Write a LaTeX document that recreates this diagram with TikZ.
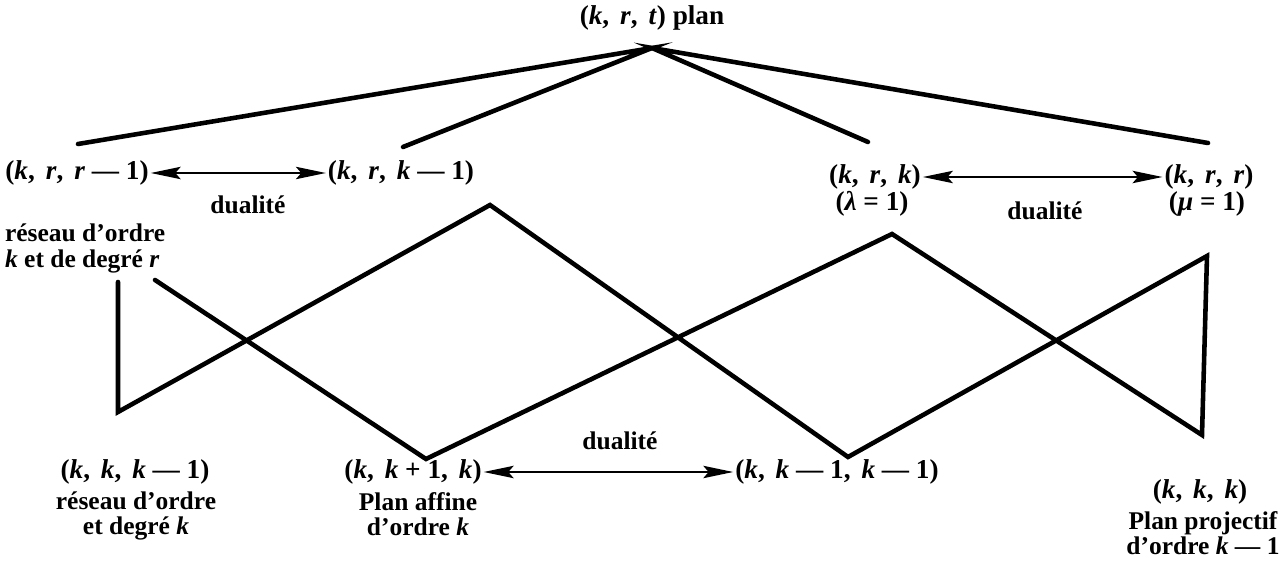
\documentclass[tikz,border=0pt]{standalone}
\usepackage{fontspec}
\setmainfont{Liberation Serif}
\usetikzlibrary{arrows.meta}
\newcommand{\vi}[1]{\textit{#1}}
\newcommand{\cs}{,\hspace{0.4em}}
\begin{document}
\begin{tikzpicture}[x=0.02cm,y=-0.02cm,
  lbl/.style={inner sep=1pt,font=\fontsize{15.5}{15.5}\selectfont\bfseries},
  wrd/.style={inner sep=1pt,font=\fontsize{14.5}{14.5}\selectfont\bfseries},
  edge/.style={line width=2.6pt,line cap=round,line join=miter},
  dualarrow/.style={line width=1.3pt,{Stealth[length=17pt,width=7pt,inset=3pt]}-{Stealth[length=17pt,width=7pt,inset=3pt]}}]
\useasboundingbox (0,0) rectangle (1282,564);
% top
\node[lbl] (top) at (652,18) {(\vi{k}\cs\vi{r}\cs\vi{t}) plan};
\coordinate (apex) at (652,48);
% upper row
\node[lbl] (krr1) at (77,173) {(\vi{k}\cs\vi{r}\cs\vi{r} — 1)};
\node[lbl] (krk1) at (401,173) {(\vi{k}\cs\vi{r}\cs\vi{k} — 1)};
\node[wrd] (dual1) at (248,205) {dualité};
\node[wrd,anchor=north west,align=left] (res1) at (3,222) {réseau d'ordre\\\vi{k} et de degré \vi{r}};
\node[lbl] (krk) at (875,177) {(\vi{k}\cs\vi{r}\cs\vi{k})};
\node[lbl] (lam) at (872,204) {(\vi{λ} = 1)};
\node[wrd] (dual2) at (1045,211) {dualité};
\node[lbl] (krr) at (1209,177) {(\vi{k}\cs\vi{r}\cs\vi{r})};
\node[lbl] (mu) at (1207,204) {(\vi{μ} = 1)};
% lower row
\node[lbl] (kkk1) at (135,472) {(\vi{k}\cs\vi{k}\cs\vi{k} — 1)};
\node[wrd,align=center] (res2) at (136,516) {réseau d'ordre\\et degré \vi{k}};
\node[lbl] (kk1k) at (413,472) {(\vi{k}\cs\vi{k} + 1\cs\vi{k})};
\node[wrd,align=center] (aff) at (418,514) {Plan affine\\d'ordre \vi{k}};
\node[wrd] (dual3) at (620,441) {dualité};
\node[lbl] (kkk1k1) at (837,472) {(\vi{k}\cs\vi{k} — 1\cs\vi{k} — 1)};
\node[lbl] (kkk) at (1200,492) {(\vi{k}\cs\vi{k}\cs\vi{k})};
\node[wrd,align=center] (proj) at (1203,533) {Plan projectif\\d'ordre \vi{k} — 1};
% top connectors
\coordinate (t1) at (78,144);
\coordinate (t2) at (403,147);
\coordinate (t3) at (868,142);
\coordinate (t4) at (1208,143);
\draw[edge] (t1) -- (apex) -- (t2);
\draw[edge] (t3) -- (apex) -- (t4);
% dualities
\draw[dualarrow] (krr1.east) -- (krr1.east -| krk1.west);
\draw[dualarrow] (krk.east) -- (krk.east -| krr.west);
\draw[dualarrow] (kk1k.east) -- (kk1k.east -| kkk1k1.west);
% zigzags
\coordinate (p1) at (118,282);
\coordinate (p2) at (118,412);
\coordinate (p3) at (490,205);
\coordinate (p4) at (848,457);
\coordinate (p5) at (1207,256);
\coordinate (p6) at (1202,435);
\coordinate (p7) at (892,234);
\coordinate (p8) at (426,459);
\coordinate (p9) at (155,280);
\draw[edge] (p1) -- (p2) -- (p3) -- (p4) -- (p5) -- (p6) -- (p7) -- (p8) -- (p9);
\end{tikzpicture}
\end{document}
